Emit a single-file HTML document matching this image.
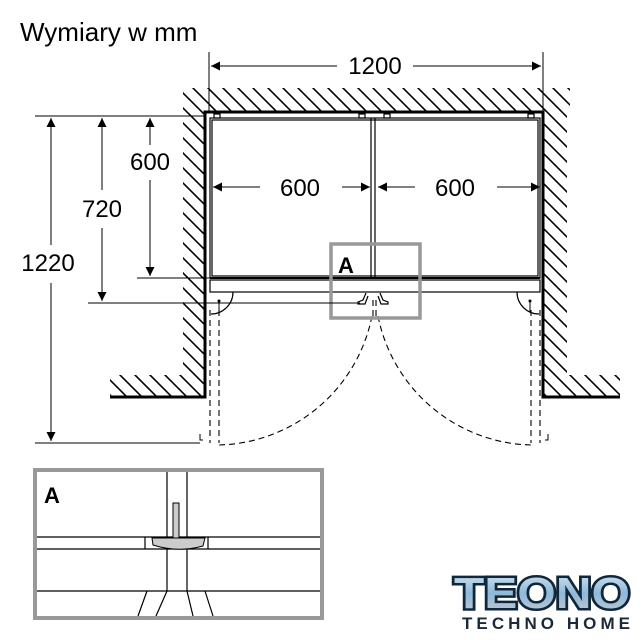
<!DOCTYPE html>
<html><head><style>body{margin:0;background:#fff}svg{display:block}</style></head><body>
<svg width="642" height="640" viewBox="0 0 642 640" xmlns="http://www.w3.org/2000/svg" font-family="Liberation Sans, sans-serif">
<defs>
<marker id="ar" viewBox="0 0 10 10" refX="10" refY="5" markerWidth="9" markerHeight="14" orient="auto" markerUnits="userSpaceOnUse"><path d="M0,0L10,5L0,10z" fill="#000"/></marker>
<clipPath id="hc">
<rect x="183" y="88" width="387" height="24"/>
<rect x="183" y="88" width="22" height="309"/>
<rect x="110" y="375" width="95" height="22"/>
<rect x="543" y="88" width="24" height="309"/>
<rect x="543" y="375" width="77" height="22"/>
</clipPath>
<linearGradient id="lg" x1="0" y1="0" x2="0" y2="1"><stop offset="0" stop-color="#d8e8f4"/><stop offset="0.5" stop-color="#8fb8d8"/><stop offset="1" stop-color="#c8ccd0"/></linearGradient>
</defs>
<text x="20" y="41" font-size="26">Wymiary w mm</text>
<g clip-path="url(#hc)" stroke="#000" stroke-width="1.6">
<path d="M-300,60l400,400M-285,60l400,400M-270,60l400,400M-255,60l400,400M-240,60l400,400M-225,60l400,400M-210,60l400,400M-195,60l400,400M-180,60l400,400M-165,60l400,400M-150,60l400,400M-135,60l400,400M-120,60l400,400M-105,60l400,400M-90,60l400,400M-75,60l400,400M-60,60l400,400M-45,60l400,400M-30,60l400,400M-15,60l400,400M0,60l400,400M15,60l400,400M30,60l400,400M45,60l400,400M60,60l400,400M75,60l400,400M90,60l400,400M105,60l400,400M120,60l400,400M135,60l400,400M150,60l400,400M165,60l400,400M180,60l400,400M195,60l400,400M210,60l400,400M225,60l400,400M240,60l400,400M255,60l400,400M270,60l400,400M285,60l400,400M300,60l400,400M315,60l400,400M330,60l400,400M345,60l400,400M360,60l400,400M375,60l400,400M390,60l400,400M405,60l400,400M420,60l400,400M435,60l400,400M450,60l400,400M465,60l400,400M480,60l400,400M495,60l400,400M510,60l400,400M525,60l400,400M540,60l400,400M555,60l400,400M570,60l400,400"/>
</g>
<path d="M110,397H205V112H543V397H620" fill="none" stroke="#000" stroke-width="3"/>
<g fill="none" stroke="#000" stroke-width="1.2">
<rect x="210" y="118" width="330" height="160"/>
<rect x="212" y="120" width="326" height="156"/>
<path d="M371,118V278M375,118V278"/>
<rect x="210" y="280" width="330" height="12"/>
<path d="M210,278H540" stroke-width="2"/>
<rect x="214" y="114" width="6" height="4"/><rect x="359" y="114" width="6" height="4"/><rect x="384" y="114" width="6" height="4"/><rect x="528" y="114" width="6" height="4"/>
<path d="M233,292A22,22 0 0 1 211,314M517,292A22,22 0 0 0 539,314"/>
<path d="M366,293l-3,7l-5,2v2h7l3,-8M380,293l3,7l5,2v2h-7l-3,-8"/>
</g>
<circle cx="219" cy="301" r="1.5"/><circle cx="530" cy="301" r="1.5"/>
<path d="M219,301V312M530,301V312" stroke="#000"/>
<g fill="none" stroke="#000" stroke-width="1.1" stroke-dasharray="6,4">
<path d="M210,310V443M219,310V443M531,310V443M540,310V443"/>
<path d="M372,316A160,160 0 0 1 219,445"/>
<path d="M378,316A160,160 0 0 0 531,445"/>
<path d="M373,300V316M376,300V316"/>
</g>
<path d="M200,434v6h3M548,434v6h-3" fill="none" stroke="#000" stroke-width="1"/>
<rect x="331" y="244" width="89" height="74" fill="none" stroke="#999" stroke-width="3.5"/>
<text x="338" y="273" font-size="22" font-weight="bold">A</text>
<g stroke="#000" stroke-width="1" fill="none">
<path d="M209,52V112M543,52V112"/>
<path d="M35,116H205M137,278H210M88,303H360M35,443H200"/>
<path d="M337,66H211" marker-end="url(#ar)"/>
<path d="M413,66H541" marker-end="url(#ar)"/>
<path d="M51,245V118" marker-end="url(#ar)"/>
<path d="M51,283V441" marker-end="url(#ar)"/>
<path d="M102,190V118" marker-end="url(#ar)"/>
<path d="M102,228V301" marker-end="url(#ar)"/>
<path d="M150,145V118" marker-end="url(#ar)"/>
<path d="M150,180V276" marker-end="url(#ar)"/>
<path d="M260,187H213" marker-end="url(#ar)"/>
<path d="M342,187H370" marker-end="url(#ar)"/>
<path d="M415,187H378" marker-end="url(#ar)"/>
<path d="M497,187H540" marker-end="url(#ar)"/>
</g>
<g font-size="24" text-anchor="middle">
<text x="375" y="74">1200</text>
<text x="300" y="196">600</text>
<text x="455" y="196">600</text>
<text x="150" y="170">600</text>
<text x="102" y="217">720</text>
<text x="48" y="271">1220</text>
</g>
<rect x="35" y="470" width="287" height="148" fill="none" stroke="#999" stroke-width="4"/>
<g stroke="#000" stroke-width="1.2" fill="none">
<path d="M167,472V537M187,472V537"/>
<path d="M37,537H320M37,549H320M145,537V549M208,537V549"/>
<path d="M37,591H320M167,549V591M187,549V591"/>
<path d="M167,591L156,616M187,591L193,616M147,591L138,616M205,591L213,616"/>
</g>
<rect x="173" y="503" width="6" height="35" fill="#ccc" stroke="#000"/>
<path d="M152,538H205L203,546Q178,553 153,545Z" fill="#ccc" stroke="#000"/>
<text x="44" y="503" font-size="22" font-weight="bold">A</text>
<text x="542" y="608" font-size="44" font-weight="bold" text-anchor="middle" fill="url(#lg)" stroke="#10263a" stroke-width="5" paint-order="stroke" textLength="176" lengthAdjust="spacingAndGlyphs">TEONO</text>
<text x="546" y="629" font-size="17" font-weight="bold" text-anchor="middle" fill="#1a2a3a" textLength="168">TECHNO HOME</text>
</svg>
</body></html>
